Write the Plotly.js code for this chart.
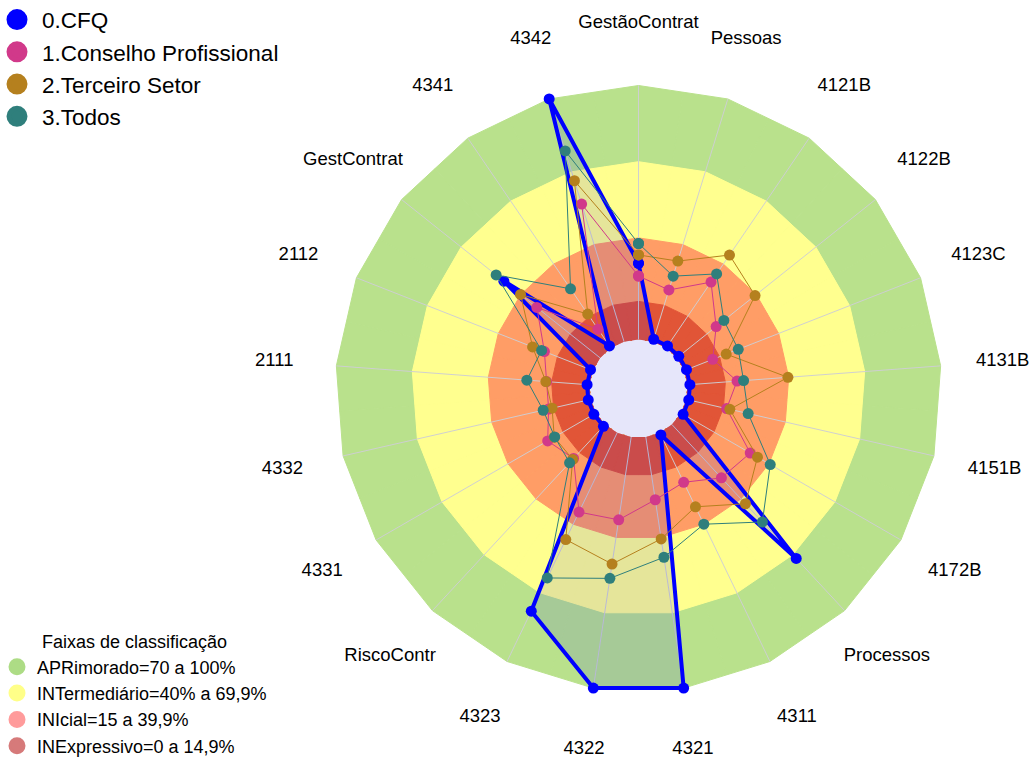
<!DOCTYPE html>
<html>
<head>
<meta charset="utf-8">
<script src="https://cdn.plot.ly/plotly-3.0.1.min.js"></script>
<style>html,body{margin:0;padding:0;background:#fff;}#chart{width:1031px;height:758px;}</style>
</head>
<body>
<div id="chart"></div>
<script>
// ---------- data ----------
const categories = ['GestãoContrat','Pessoas','4121B','4122B','4123C','4131B','4151B','4172B','Processos','4311','4321','4322','4323','RiscoContr','4331','4332','2111','2112','GestContrat','4341','4342'];
const seriesNames = ['0.CFQ','1.Conselho Profissional','2.Terceiro Setor','3.Todos'];
const cfq       = [30, 1, 1, 1, 1, 1, 1, 1, 72, 1, 100, 100, 78, 1, 1, 1, 1, 1, 48.5, 1, 100];
const conselho  = [25, 21.3, 31.4, 19.8, 12.1, 19.6, 16.3, 31.5, 28.7, 21.7, 25, 33, 34.7, 18.3, 22, 17, 17, 20.5, 31.9, 9, 56.7];
const terceiro  = [33.3, 33.2, 44.3, 39.4, 17.8, 39.7, 17.6, 34.8, 42.6, 32.4, 40.6, 50.6, 46.7, 18.8, 19, 15.6, 17.3, 25.5, 40.1, 16.2, 66.3];
const todos     = [37.8, 27, 35.3, 23.7, 22.9, 22.2, 25, 40.6, 52.4, 40, 47.9, 56.3, 63.5, 20.6, 18.8, 19.2, 24.8, 21.7, 52.4, 28.2, 78.6];
const bandNames = ['APRimorado=70 a 100%','INTermediário=40% a 69,9%','INIcial=15 a 39,9%','INExpressivo=0 a 14,9%'];
const bandLower = [70, 40, 15, 0];
const bandUpper = [100, 70, 40, 15];
const legendTitle2 = 'Faixas de classificação';

// ---------- styling ----------
const W = 1031, H = 758;
const CX = 638.5, CY = 388.5;      // polar centre (px)
const HOLE_PX = 49;                // radius of r=0 (px)
const PX_PER_UNIT = 2.54;
const R_MAX = 126;
const LABEL_R = 124.5;
const R_PX = HOLE_PX + R_MAX * PX_PER_UNIT;
const FONT = 'Liberation Sans, Arial, sans-serif';

const seriesColors = ['#0000FF', '#D1398A', '#B5801E', '#2F7F7C'];
const seriesData = [cfq, conselho, terceiro, todos];
const bandColors = ['#B9E18C', '#FFFF8F', '#FF9D66', '#E15537'];
const bandLegendColors = ['#ADDC85', '#FFFF88', '#FF9B9B', '#D67A7A'];

const close = a => a.concat([a[0]]);
const thetaClosed = close(categories);

const traces = [];

// background bands
bandNames.forEach((name, i) => {
  traces.push({
    type: 'barpolar', subplot: 'polar',
    theta: categories,
    r: categories.map(() => bandUpper[i] - bandLower[i]),
    base: categories.map(() => bandLower[i]),
    width: categories.map(() => 1),
    marker: {color: bandColors[i], line: {color: bandColors[i], width: 1}},
    showlegend: false, hoverinfo: 'skip'
  });
});

// spokes
traces.push({
  type: 'scatterpolar', subplot: 'polar', mode: 'lines',
  theta: categories.flatMap(c => [c, c, null]),
  r: categories.flatMap(() => [0, 100, null]),
  line: {color: 'rgba(205,205,212,0.95)', width: 1},
  showlegend: false, hoverinfo: 'skip', cliponaxis: false
});

// series
seriesData.forEach((vals, i) => {
  const isCFQ = i === 0;
  traces.push({
    type: 'scatterpolar', subplot: 'polar', mode: 'lines+markers',
    name: seriesNames[i],
    theta: thetaClosed, r: close(vals),
    fill: isCFQ ? 'toself' : 'none',
    fillcolor: 'rgba(0,0,255,0.1)',
    line: {color: seriesColors[i], width: isCFQ ? 4 : 1},
    marker: {color: seriesColors[i], size: 11, symbol: 'circle'},
    showlegend: false, cliponaxis: false
  });
});

// label ring
traces.push({
  type: 'scatterpolar', subplot: 'polar', mode: 'text',
  theta: categories, r: categories.map(() => LABEL_R),
  text: categories, textposition: 'middle center',
  textfont: {family: FONT, size: 18.5, color: '#000'},
  showlegend: false, hoverinfo: 'skip', cliponaxis: false
});

// legend entries (series)
seriesNames.forEach((name, i) => {
  traces.push({
    type: 'scatterpolar', subplot: 'polar', mode: 'markers', name: name,
    theta: [null], r: [null],
    marker: {color: seriesColors[i], size: 16, line: {color: seriesColors[i], width: 5}},
    legend: 'legend', hoverinfo: 'skip'
  });
});
// legend entries (bands)
bandNames.forEach((name, i) => {
  traces.push({
    type: 'scatterpolar', subplot: 'polar', mode: 'markers', name: name,
    theta: [null], r: [null],
    marker: {color: bandLegendColors[i], size: 14, line: {color: bandLegendColors[i], width: 3}},
    legend: 'legend2', hoverinfo: 'skip'
  });
});

const layout = {
  width: W, height: H,
  margin: {l: 0, r: 0, t: 0, b: 0, autoexpand: false},
  paper_bgcolor: '#fff', plot_bgcolor: '#fff',
  font: {family: FONT, color: '#000'},
  showlegend: true,
  polar: {
    domain: {x: [(CX - R_PX) / W, (CX + R_PX) / W], y: [1 - (CY + R_PX) / H, 1 - (CY - R_PX) / H]},
    hole: HOLE_PX / R_PX,
    bgcolor: 'rgba(0,0,0,0)',
    gridshape: 'linear',
    barmode: 'overlay', bargap: 0,
    radialaxis: {visible: false, range: [0, R_MAX], showgrid: false},
    angularaxis: {type: 'category', rotation: 90, direction: 'clockwise',
      showgrid: false, showline: false, showticklabels: false, ticks: ''}
  },
  shapes: [{
    type: 'circle', xref: 'paper', yref: 'paper', layer: 'below',
    x0: (CX - HOLE_PX) / W, x1: (CX + HOLE_PX) / W,
    y0: 1 - (CY + HOLE_PX) / H, y1: 1 - (CY - HOLE_PX) / H,
    fillcolor: '#E6E6FA', line: {width: 0}
  }],
  legend: {x: -8 / W, y: 1.002, xanchor: 'left', yanchor: 'top', bgcolor: 'rgba(0,0,0,0)',
    itemwidth: 40,
    font: {family: FONT, size: 22.5, color: '#000'}, traceorder: 'normal'},
  legend2: {x: -3 / W, y: -0.008, xanchor: 'left', yanchor: 'bottom', bgcolor: 'rgba(0,0,0,0)',
    font: {family: FONT, size: 18, color: '#000'}, traceorder: 'normal',
    title: {text: legendTitle2, side: 'top center', font: {family: FONT, size: 18, color: '#000'}}}
};

Plotly.newPlot('chart', traces, layout, {displayModeBar: false, staticPlot: true});
</script>
</body>
</html>
